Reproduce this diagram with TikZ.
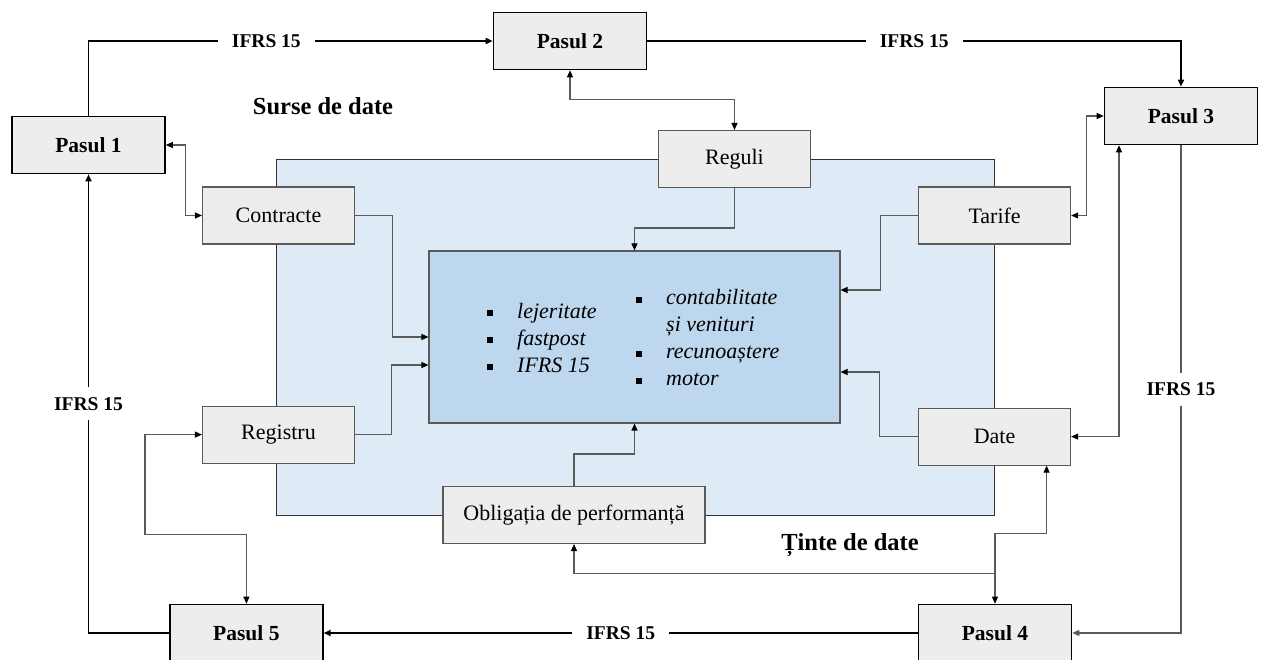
\documentclass[tikz,border=0pt]{standalone}
\usepackage{fontspec}
\setmainfont{Liberation Serif}
\usepackage{array}
\usetikzlibrary{positioning,arrows.meta}

\definecolor{zonafill}{HTML}{DEEAF6}
\definecolor{motorfill}{HTML}{BDD7EE}
\definecolor{cutiefill}{HTML}{EDEDED}
\definecolor{liniegri}{HTML}{5A5A5A}

\tikzstyle{pas} = [rectangle, draw=black, line width=1.6pt, fill=cutiefill,
                   minimum width=153pt, minimum height=57pt, font=\fontsize{21.5}{24}\selectfont\bfseries]
\tikzstyle{ifrs} = [line width=1.6pt, ->, >={Triangle[length=7pt,width=6pt]}]
\tikzstyle{legatura} = [line width=1.1pt, draw=liniegri, >={Triangle[length=7pt,width=6pt,black]}]

\newcommand{\patrat}{\rule[2pt]{6pt}{6pt}}

\begin{document}
\begin{tikzpicture}[x=1pt, y=-1pt,
			cutie/.style={
					rectangle,
					draw=liniegri,
					line width=1.1pt,
					fill=cutiefill,
					minimum width=152pt,
					minimum height=57pt,
					font=\fontsize{22}{26}\selectfont,
				},
			eticheta/.style={
					fill=white,
					inner xsep=14pt,
					inner ysep=10pt,
					font=\fontsize{19.5}{22}\selectfont\bfseries,
				},
			titlu/.style={font=\fontsize{24.5}{28}\selectfont\bfseries},
			lista/.style={anchor=west, inner sep=0pt, font=\fontsize{22}{27}\selectfont\itshape},
		]
		\useasboundingbox (0,0) rectangle (1262,660);

		% Zona albastra
		\node[draw=black!80, line width=0.8pt, fill=zonafill, minimum width=718pt, minimum height=356pt] (zona) at (635,337) {};

		% Motor
		\node[draw=liniegri, line width=1.1pt, fill=motorfill, minimum width=411pt, minimum height=172pt] (motor) at (634.5,337) {};
		\node[lista] (listastanga) at (487,340) {
			\begin{tabular}{@{}l@{\hspace{24pt}}l@{}}
				\patrat & lejeritate \\
				\patrat & fastpost   \\
				\patrat & IFRS 15    \\
			\end{tabular}
		};
		\node[lista] (listadreapta) at (636,340) {
			\begin{tabular}{@{}l@{\hspace{24pt}}l@{}}
				\patrat & contabilitate \\
				        & și venituri   \\
				\patrat & recunoaștere  \\
				\patrat & motor         \\
			\end{tabular}
		};

		% Surse de date
		\node[cutie] (contracte) at (278.5,215.5) {Contracte};
		\node[cutie, below=161pt of contracte] (registru) {Registru};
		\node[cutie, right=563pt of contracte] (tarife) {Tarife};
		\node[cutie, below=163pt of tarife] (date) {Date};
		\node[cutie] (reguli) at (734.5,159) {Reguli};
		\node[cutie, minimum width=262pt] (obligatia) at (574,515) {Obligația de performanță};

		% Titluri
		\node[titlu] (surse) at (323,106) {Surse de date};
		\node[titlu] (tinte) at (850,545) {Ținte de date};

		% Pasii
		\node[pas] (pas1) at (88.5,145) {Pasul 1};
		\node[pas] (pas2) at (570,41) {Pasul 2};
		\node[pas] (pas3) at (1181,116) {Pasul 3};
		\node[pas] (pas4) at (995,633) {Pasul 4};
		\node[pas, left=594pt of pas4] (pas5) {Pasul 5};

		% Fluxul IFRS 15
		\draw[ifrs] (pas1.north) |- node[eticheta, pos=0.72]{IFRS 15} (pas2.west);
		\draw[ifrs] (pas2.east) -| node[eticheta, pos=0.25]{IFRS 15} (pas3.north);
		\draw[ifrs, draw=liniegri, line width=1.3pt] (pas3.south) |- node[eticheta, pos=0.25]{IFRS 15} (pas4.east);
		\draw[ifrs] (pas4.west) -- node[eticheta]{IFRS 15} (pas5.east);
		\draw[ifrs] (pas5.west) -| node[eticheta, pos=0.75]{IFRS 15} (pas1.south);

		% Legaturi cu pasii
		\draw[legatura, <->] (pas2.south) -- ++(0,29) -| (reguli.north);
		\draw[legatura, <->] (pas1.east) -- ++(20,0) |- (contracte.west);
		\draw[legatura, <->] (pas3.west) -- ++(-17,0) |- (tarife.east);
		\draw[legatura, <->] ([xshift=-62pt]pas3.south) |- (date.east);
		\draw[legatura, <->] (registru.west) -- ++(-57,0) -- ++(0,100) -| (pas5.north);
		\draw[legatura, <->] (pas4.north) -- ++(0,-70) -| ([xshift=52pt]date.south);
		\draw[legatura, ->] ([yshift=30pt]pas4.north) -| (obligatia.south);

		% Legaturi cu motorul
		\draw[legatura, ->] (reguli.south) -- ++(0,40) -| (motor.north);
		\draw[legatura, ->] (contracte.east) -- ++(37,0) |- (motor.west);
		\draw[legatura, ->] (registru.east) -- ++(36,0) |- ([yshift=-28pt]motor.west);
		\draw[legatura, ->] (tarife.west) -- ++(-38,0) |- ([yshift=47pt]motor.east);
		\draw[legatura, ->] (date.west) -- ++(-39,0) |- ([yshift=-35pt]motor.east);
		\draw[legatura, ->] (obligatia.north) -- ++(0,-32) -| (motor.south);
	\end{tikzpicture}
\end{document}
